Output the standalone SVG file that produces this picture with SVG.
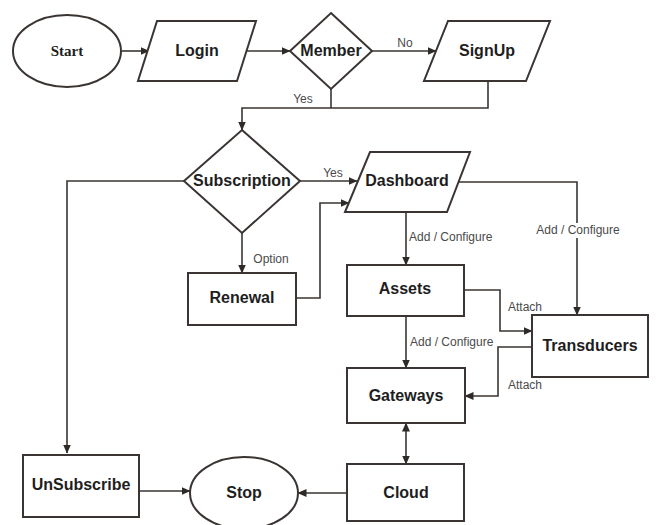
<svg xmlns="http://www.w3.org/2000/svg" width="658" height="525" viewBox="0 0 658 525">
  <defs>
    <marker id="arrow" markerWidth="9" markerHeight="8" refX="8.5" refY="4" orient="auto" markerUnits="userSpaceOnUse">
      <path d="M0,0 L9,4 L0,8 Z" fill="#2e2a28"/>
    </marker>
    <marker id="arrowStart" markerWidth="9" markerHeight="8" refX="0.5" refY="4" orient="auto" markerUnits="userSpaceOnUse">
      <path d="M9,0 L0,4 L9,8 Z" fill="#2e2a28"/>
    </marker>
  </defs>
  <style>
    .shape { fill: #ffffff; stroke: #3a3532; stroke-width: 2; }
    .edge { fill: none; stroke: #3a3532; stroke-width: 1.6; }
    .node-text { font-family: "Liberation Sans", Arial, sans-serif; font-weight: bold; font-size: 16px; fill: #1e1e1e; text-anchor: middle; }
    .serif-text { font-family: "Liberation Serif", "Times New Roman", serif; font-weight: bold; font-size: 15px; fill: #1e1e1e; text-anchor: middle; }
    .label { font-family: "Liberation Sans", Arial, sans-serif; font-size: 12px; fill: #4a4a4a; }
    .mid { text-anchor: middle; }
  </style>
  <rect width="658" height="525" fill="#ffffff"/>

  <!-- connectors -->
  <g id="connectors">
    <line class="edge" x1="122" y1="51" x2="149" y2="51" marker-end="url(#arrow)"/>
    <line class="edge" x1="246" y1="51" x2="290" y2="51" marker-end="url(#arrow)"/>
    <line class="edge" x1="372" y1="51" x2="436" y2="51" marker-end="url(#arrow)"/>
    <polyline class="edge" points="331,89 331,108"/>
    <polyline class="edge" points="488,81 488,108 242,108 242,130" marker-end="url(#arrow)"/>
    <polyline class="edge" points="184,181 67,181 67,453" marker-end="url(#arrow)"/>
    <line class="edge" x1="300" y1="181" x2="357" y2="181" marker-end="url(#arrow)"/>
    <line class="edge" x1="242" y1="233" x2="242" y2="273" marker-end="url(#arrow)"/>
    <polyline class="edge" points="296,298 320,298 320,203 349,203" marker-end="url(#arrow)"/>
    <line class="edge" x1="406" y1="212" x2="406" y2="265" marker-end="url(#arrow)"/>
    <polyline class="edge" points="458,182 577,182 577,315" marker-end="url(#arrow)"/>
    <polyline class="edge" points="464,290 500,290 500,331 532,331" marker-end="url(#arrow)"/>
    <line class="edge" x1="406" y1="316" x2="406" y2="368" marker-end="url(#arrow)"/>
    <polyline class="edge" points="532,347 498,347 498,396 465,396" marker-end="url(#arrow)"/>
    <line class="edge" x1="406" y1="423" x2="406" y2="464" marker-start="url(#arrowStart)" marker-end="url(#arrow)"/>
    <line class="edge" x1="347" y1="493" x2="298" y2="493" marker-end="url(#arrow)"/>
    <line class="edge" x1="139" y1="491" x2="190" y2="491" marker-end="url(#arrow)"/>

    <text class="label mid" x="405" y="47">No</text>
    <text class="label mid" x="303" y="103">Yes</text>
    <text class="label mid" x="333" y="177">Yes</text>
    <text class="label mid" x="271" y="263">Option</text>
    <text class="label" x="409" y="241">Add / Configure</text>
    <rect x="533" y="223" width="90" height="15" fill="#ffffff"/>
    <text class="label mid" x="578" y="234">Add / Configure</text>
    <text class="label mid" x="525" y="311">Attach</text>
    <text class="label" x="410" y="346">Add / Configure</text>
    <text class="label mid" x="525" y="389">Attach</text>
  </g>

  <!-- nodes -->
  <g id="start">
    <ellipse class="shape" cx="67" cy="51" rx="54" ry="36"/>
    <text class="serif-text" x="67" y="56">Start</text>
  </g>
  <g id="login">
    <polygon class="shape" points="157,21 256,21 237,81 138,81"/>
    <text class="node-text" x="197" y="56">Login</text>
  </g>
  <g id="member">
    <polygon class="shape" points="331,13 372,51 331,89 290,51"/>
    <text class="node-text" x="331" y="56">Member</text>
  </g>
  <g id="signup">
    <polygon class="shape" points="448,21 550,21 526,81 424,81"/>
    <text class="node-text" x="487" y="56">SignUp</text>
  </g>
  <g id="subscription">
    <polygon class="shape" points="242,130 300,181 242,233 184,181"/>
    <text class="node-text" x="242" y="186">Subscription</text>
  </g>
  <g id="dashboard">
    <polygon class="shape" points="370,152 470,152 447,212 345,212"/>
    <text class="node-text" x="407" y="186">Dashboard</text>
  </g>
  <g id="renewal">
    <rect class="shape" x="188" y="273" width="108" height="52"/>
    <text class="node-text" x="242" y="303">Renewal</text>
  </g>
  <g id="assets">
    <rect class="shape" x="347" y="265" width="117" height="51"/>
    <text class="node-text" x="405" y="294">Assets</text>
  </g>
  <g id="transducers">
    <rect class="shape" x="532" y="315" width="116" height="62"/>
    <text class="node-text" x="590" y="351">Transducers</text>
  </g>
  <g id="gateways">
    <rect class="shape" x="347" y="368" width="118" height="55"/>
    <text class="node-text" x="406" y="401">Gateways</text>
  </g>
  <g id="cloud">
    <rect class="shape" x="347" y="464" width="117" height="57"/>
    <text class="node-text" x="406" y="498">Cloud</text>
  </g>
  <g id="stop">
    <ellipse class="shape" cx="244" cy="493" rx="54" ry="36"/>
    <text class="node-text" x="244" y="498">Stop</text>
  </g>
  <g id="unsubscribe">
    <rect class="shape" x="23" y="455" width="116" height="62"/>
    <text class="node-text" x="81" y="490">UnSubscribe</text>
  </g>
</svg>
